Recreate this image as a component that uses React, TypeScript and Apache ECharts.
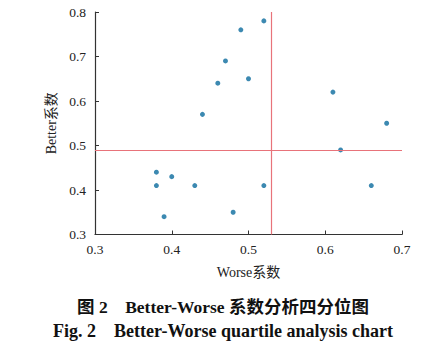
import React, { useEffect, useRef } from "react";
import * as echarts from "echarts";

const worse = [0.49, 0.47, 0.46, 0.5, 0.44, 0.52, 0.61, 0.68, 0.38, 0.38, 0.4, 0.43, 0.39, 0.48, 0.62, 0.52, 0.66];
const better = [0.76, 0.69, 0.64, 0.65, 0.57, 0.78, 0.62, 0.55, 0.44, 0.41, 0.43, 0.41, 0.34, 0.35, 0.49, 0.41, 0.41];
const worseMean = 0.527;
const betterMean = 0.495;
const xTicks = { min: 0.3, max: 0.7, interval: 0.1 };
const yTicks = { min: 0.3, max: 0.8, interval: 0.1 };
const caption1 = "图 2　Better-Worse 系数分析四分位图";
const caption2 = "Fig. 2　Better-Worse quartile analysis chart";

const SERIF = "Liberation Serif, Noto Sans CJK SC, serif";

export default function App() {
  const ref = useRef<HTMLDivElement>(null);
  useEffect(() => {
    if (!ref.current) return;
    const chart = echarts.init(ref.current, null, { renderer: "svg" });
    const points = worse.map((w, i) => [w, better[i]]);
    chart.setOption({
      animation: false,
      backgroundColor: "#fff",
      textStyle: { fontFamily: SERIF },
      grid: { left: 95, right: 44, top: 12, bottom: 119.5, containLabel: false },
      xAxis: {
        type: "value",
        ...xTicks,
        axisLine: { show: true, lineStyle: { color: "#333", width: 1.2 } },
        axisTick: { show: true, inside: true, length: 4, lineStyle: { color: "#333" } },
        splitLine: { show: false },
        nameLocation: "middle",
        name: "Worse系数",
        nameGap: 31,
        nameTextStyle: { fontFamily: SERIF, fontSize: 14, color: "#222", verticalAlign: "top" },
        axisLabel: {
          margin: 8,
          fontFamily: SERIF,
          fontSize: 13.5,
          color: "#222",
          formatter: (v: number) => v.toFixed(1),
        },
      },
      yAxis: {
        type: "value",
        ...yTicks,
        axisLine: { show: true, lineStyle: { color: "#333", width: 1.2 } },
        axisTick: { show: true, inside: true, length: 4, lineStyle: { color: "#333" } },
        splitLine: { show: false },
        nameLocation: "middle",
        name: "Better系数",
        nameGap: 32,
        nameTextStyle: { fontFamily: SERIF, fontSize: 14, color: "#222" },
        axisLabel: {
          margin: 9,
          fontFamily: SERIF,
          fontSize: 13.5,
          color: "#222",
          formatter: (v: number) => v.toFixed(1),
        },
      },
      series: [
        {
          type: "scatter",
          data: points,
          symbolSize: 5,
          itemStyle: { color: "#0b6b9e" },
          markLine: {
            silent: true,
            symbol: "none",
            label: { show: false },
            lineStyle: { color: "#e8737a", type: "solid", width: 1.2 },
            data: [{ xAxis: worseMean }, { yAxis: betterMean }],
          },
        },
      ],
      graphic: [
        {
          type: "text",
          left: "center",
          top: 298,
          style: {
            text: caption1,
            font: `bold 17.5px ${SERIF}`,
            fill: "#111",
          },
        },
        {
          type: "text",
          left: "center",
          top: 322,
          style: {
            text: caption2,
            font: `bold 18px ${SERIF}`,
            fill: "#111",
          },
        },
      ],
    });
    return () => chart.dispose();
  }, []);
  return (
    <div
      ref={ref}
      style={{ position: "fixed", left: 0, top: 0, width: 446, height: 354, background: "#fff" }}
    />
  );
}
